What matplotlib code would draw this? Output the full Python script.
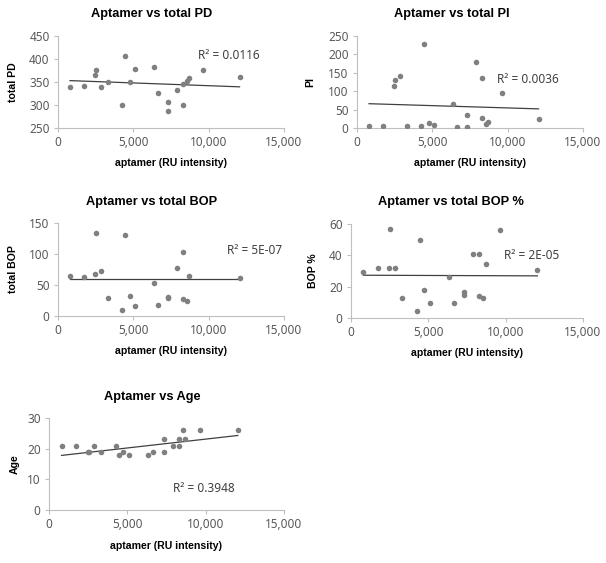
import numpy as np
import matplotlib
matplotlib.use("Agg")
import matplotlib.pyplot as plt
from matplotlib.ticker import FuncFormatter, MultipleLocator

# ---- data ----
aptamer = [800, 1750, 2470, 2550, 2870, 3290, 4280, 4450, 4750, 5090, 6340,
           6650, 7310, 7330, 7890, 8270, 8300, 8560, 8710, 9630, 12050]
total_pd = [340, 341, 366, 376, 340, 350, 300, 407, 349, 379, 383,
            326, 286, 307, 332, 345, 301, 352, 358, 376, 361]
total_pi = [6, 6, 113, 131, 142, 5, 6, 229, 14, 9, 64,
            3, 34, 3, 178, 136, 28, 12, 15, 95, 25]
total_bop = [64, 63, 67, 134, 72, 29, 9, 130, 32, 16, 54,
             17, 29, 30, 78, 103, 27, 25, 64, np.nan, 62]
bop_pct = [29.5, 32, 32, 56.8, 32, 12.7, 4.2, 50, 17.8, 9.3, 26.3,
           9.8, 14.6, 16.7, 40.9, 40.9, 14, 12.7, 34.6, 56, 30.5]
age = [21, 21, 19, 19, 21, 19, 21, 18, 19, 18, 18,
       19, 23, 19, 21, 23, 21, 26, 23, 26, 26]

# trend line values at min and max aptamer
trend_pd = [353, 339.5]
trend_pi = [66, 52]
trend_bop = [60, 60]
trend_bop_pct = [27.3, 26.9]
trend_age = [17.8, 24.3]

titles = ["Aptamer vs total PD", "Aptamer vs total PI", "Aptamer vs total BOP",
          "Aptamer vs total BOP %", "Aptamer vs Age"]
ylabels = ["total PD", "PI", "total BOP", "BOP %", "Age"]
r2_labels = ["R² = 0.0116", "R² = 0.0036", "R² = 5E-07", "R² = 2E-05", "R² = 0.3948"]
xlabel = "aptamer (RU intensity)"

W, H = 606, 563
fig = plt.figure(figsize=(W / 100, H / 100), dpi=100)
fig.patch.set_facecolor("white")

# pixel boxes: (x0, x1, ytop, ybottom)
boxes = [(58, 284, 36, 128), (357, 583, 36, 128), (58, 284, 223, 316),
         (351, 583, 224, 318), (49, 284, 418, 510)]
ylims = [(250, 450, 50), (0, 250, 50), (0, 150, 50), (0, 60, 20), (0, 30, 10)]
series = [total_pd, total_pi, total_bop, bop_pct, age]
trends = [trend_pd, trend_pi, trend_bop, trend_bop_pct, trend_age]
r2_pos = [(9300, 407), (9320, 133), (11190, 105), (9910, 39.9), (7940, 7.1)]
title_xy = [(152, 14), (452, 14), (152, 202), (451, 202), (152, 397)]
xlabel_y = [163, 163, 351, 353, 546]
ylabel_x = [13, 310, 13, 313, 15]

fam = ["Noto Sans", "DejaVu Sans"]
bfam = ["Liberation Sans", "DejaVu Sans"]
tick_col = "#595959"
spine_col = "#bfbfbf"
pt_col = "#808080"

fmt = FuncFormatter(lambda v, p: f"{int(v):,}")
xs = np.array(aptamer, dtype=float)
for i in range(5):
    x0, x1, yt, yb = boxes[i]
    ax = fig.add_axes([x0 / W, 1 - yb / H, (x1 - x0) / W, (yb - yt) / H])
    ys = np.array(series[i], dtype=float)
    ax.scatter(xs, ys, s=16, color=pt_col, zorder=3, linewidths=0)
    ax.plot([xs.min(), xs.max()], trends[i], color="#404040", lw=0.9, zorder=2)
    lo, hi, st = ylims[i]
    ax.set_ylim(lo, hi)
    ax.set_xlim(0, 15000)
    ax.yaxis.set_major_locator(MultipleLocator(st))
    ax.xaxis.set_major_locator(MultipleLocator(5000))
    ax.xaxis.set_major_formatter(fmt)
    for s in ["top", "right"]:
        ax.spines[s].set_visible(False)
    for s in ["left", "bottom"]:
        ax.spines[s].set_color(spine_col)
        ax.spines[s].set_linewidth(0.8)
    ax.tick_params(axis="both", colors=spine_col, length=3, width=0.8,
                   labelcolor=tick_col, labelsize=8.5, pad=3)
    for lab in ax.get_xticklabels() + ax.get_yticklabels():
        lab.set_family(fam)
    ax.text(r2_pos[i][0], r2_pos[i][1], r2_labels[i], fontsize=8.5, color="#404040",
            family=fam, va="center", ha="left")
    cx = (x0 + x1) / 2
    tx, ty = title_xy[i]
    fig.text(tx / W, 1 - ty / H, titles[i],
             ha="center", va="center", fontsize=9.2, fontweight="bold", family=bfam,
             color="#000000")
    fig.text(cx / W, 1 - xlabel_y[i] / H, xlabel, ha="center", va="center",
             fontsize=7.6, fontweight="bold", family=bfam, color="#000000")
    fig.text(ylabel_x[i] / W, 1 - ((yt + yb) / 2) / H, ylabels[i], ha="center",
             va="center", rotation=90, fontsize=7.6, fontweight="bold", family=bfam)

fig.savefig("out.png", dpi=100, facecolor="white")
